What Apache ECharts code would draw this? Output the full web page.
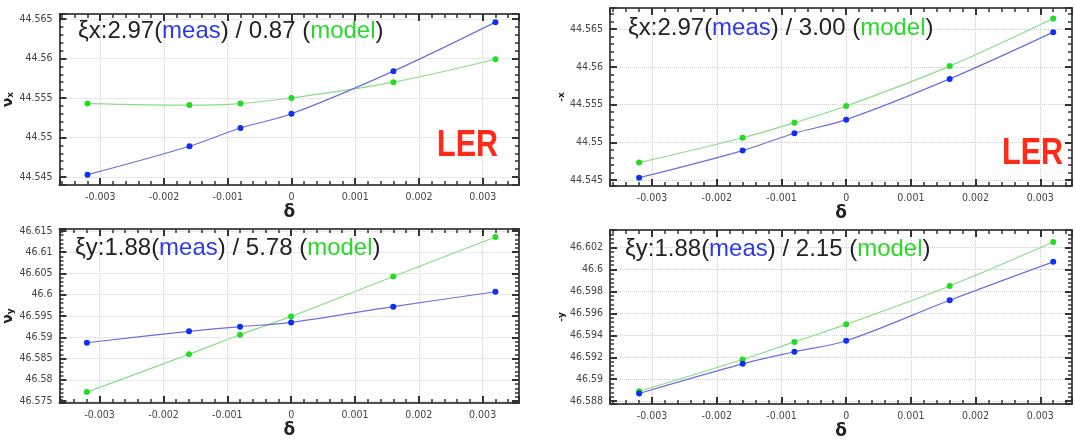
<!DOCTYPE html>
<html lang="en">
<head>
    <meta charset="UTF-8">
    <title>chromaticity LER</title>
    <script src="https://cdn.jsdelivr.net/npm/echarts@6/dist/echarts.min.js"></script>
    <style>
        html, body {margin: 0; padding: 0; background: #fff;}
    </style>
</head>
<body>
    <div id="chart" style="width: 1075px; height: 441px"></div>
    <script type="text/javascript">
        // momentum offsets (delta) used for every panel
        const delta = [-0.0032, -0.0016, -0.0008, 0, 0.0016, 0.0032];

        // horizontal tune
        const nuXMeas = [44.5453, 44.5489, 44.5512, 44.5530, 44.5584, 44.5646];
        const nuXModelOld = [44.5543, 44.5541, 44.5543, 44.5550, 44.5570, 44.5599];
        const nuXModelNew = [44.5473, 44.5506, 44.5526, 44.5548, 44.5601, 44.5664];

        // vertical tune
        const nuYMeas = [46.5887, 46.5914, 46.5925, 46.5935, 46.5972, 46.6007];
        const nuYModelOld = [46.5771, 46.5860, 46.5906, 46.5949, 46.6043, 46.6136];
        const nuYModelNew = [46.5889, 46.5918, 46.5934, 46.5950, 46.5985, 46.6025];

        // chromaticity annotations: [plane, meas, model]
        const xiTexts = [
            ['ξx', '2.97', '0.87'],
            ['ξx', '2.97', '3.00'],
            ['ξy', '1.88', '5.78'],
            ['ξy', '1.88', '2.15']
        ];

        const panels = [
            {grid: {left: 58, top: 14, width: 461, height: 171}, x: [-0.00364, 0.00357], y: [44.54399, 44.56563], ySplit: 4,
             meas: nuXMeas, model: nuXModelOld, sub: 'x', nu: true, text: xiTexts[0], tx: 78, ty: 19, ler: [437, 128]},
            {grid: {left: 610, top: 8, width: 462, height: 178}, x: [-0.00365, 0.00349], y: [44.5442, 44.5678], ySplit: 4,
             meas: nuXMeas, model: nuXModelNew, sub: 'x', nu: false, text: xiTexts[1], tx: 628, ty: 16, ler: [1002, 136]},
            {grid: {left: 59, top: 229, width: 460, height: 174}, x: [-0.00363, 0.00357], y: [46.57453, 46.61547], ySplit: 8,
             meas: nuYMeas, model: nuYModelOld, sub: 'y', nu: true, text: xiTexts[2], tx: 75, ty: 236},
            {grid: {left: 610, top: 230, width: 462, height: 178}, x: [-0.00365, 0.00349], y: [46.58773, 46.6036], ySplit: 8,
             meas: nuYMeas, model: nuYModelNew, sub: 'y', nu: false, text: xiTexts[3], tx: 625, ty: 237}
        ];

        const frame = {show: true, onZero: false, lineStyle: {color: '#505050', width: 2}};
        const tickLabel = {color: '#444', fontFamily: 'DejaVu Sans Condensed', fontSize: 10.5, margin: 7,
                           showMinLabel: false, showMaxLabel: false};
        const ticks = {show: true, inside: true, length: 7, lineStyle: {color: '#333', width: 2}};
        const minor = {show: true, splitNumber: 5, length: 4, lineStyle: {color: '#333', width: 1.5}};
        const grid = {show: true, lineStyle: {color: '#d0d0d0', type: 'dotted', width: 1}};

        let grids = [], xAxes = [], yAxes = [], series = [], graphic = [];

        panels.forEach((p, i) => {
            grids.push(p.grid);
            // bottom / top x axes
            xAxes.push({
                type: 'value', gridIndex: i, min: p.x[0], max: p.x[1], splitNumber: 7,
                axisLine: frame, axisTick: ticks, minorTick: minor, axisLabel: tickLabel, splitLine: grid,
                name: 'δ', nameLocation: 'middle', nameGap: 18,
                nameTextStyle: {color: '#222', fontSize: 17, fontFamily: 'DejaVu Sans', fontWeight: 'bold'}
            });
            xAxes.push({
                type: 'value', gridIndex: i, position: 'top', min: p.x[0], max: p.x[1], splitNumber: 7,
                axisLine: frame, axisTick: ticks, minorTick: minor, axisLabel: {show: false}, splitLine: {show: false}
            });
            // left / right y axes
            yAxes.push({
                type: 'value', gridIndex: i, min: p.y[0], max: p.y[1], splitNumber: p.ySplit,
                axisLine: frame, axisTick: ticks, minorTick: minor, axisLabel: tickLabel, splitLine: grid,
                name: p.nu ? '{n|ν}{s|' + p.sub + '}' : '{s|-' + p.sub + '}',
                nameLocation: 'middle', nameGap: p.nu ? 36 : 37, nameRotate: 90,
                nameTextStyle: {
                    rich: {
                        n: {fontSize: 14, fontWeight: 'bold', color: '#222', fontFamily: 'DejaVu Sans'},
                        s: {fontSize: 9, fontWeight: 'bold', color: '#222', fontFamily: 'DejaVu Sans', padding: [6, 0, 0, 0]}
                    }
                }
            });
            yAxes.push({
                type: 'value', gridIndex: i, position: 'right', min: p.y[0], max: p.y[1], splitNumber: p.ySplit,
                axisLine: frame, axisTick: ticks, minorTick: minor, axisLabel: {show: false}, splitLine: {show: false}
            });

            series.push({
                name: 'model', type: 'line', xAxisIndex: 2 * i, yAxisIndex: 2 * i,
                data: delta.map((d, k) => [d, p.model[k]]),
                smooth: 0.35, symbol: 'circle', symbolSize: 6, z: 3,
                lineStyle: {color: '#88dd88', width: 1.2}, itemStyle: {color: '#22dd22'}
            });
            series.push({
                name: 'meas', type: 'line', xAxisIndex: 2 * i, yAxisIndex: 2 * i,
                data: delta.map((d, k) => [d, p.meas[k]]),
                smooth: 0.35, symbol: 'circle', symbolSize: 6, z: 4,
                lineStyle: {color: '#6e6edc', width: 1.2}, itemStyle: {color: '#1030f0'}
            });

            const t = p.text;
            graphic.push({
                type: 'text', x: p.tx, y: p.ty, z: 10,
                style: {
                    text: '{k|' + t[0] + ':' + t[1] + '(}{b|meas}{k|) / ' + t[2] + ' (}{g|model}{k|)}',
                    rich: {
                        k: {fill: '#222', fontSize: 24, fontFamily: 'Liberation Sans'},
                        b: {fill: '#2d3ae6', fontSize: 24, fontFamily: 'Liberation Sans'},
                        g: {fill: '#2ad82a', fontSize: 24, fontFamily: 'Liberation Sans'}
                    }
                }
            });
            if (p.ler) {
                graphic.push({
                    type: 'text', x: p.ler[0], y: p.ler[1], scaleX: 0.85, z: 10,
                    style: {text: 'LER', fill: '#ff2a17', font: 'bold 36px "Liberation Sans"'}
                });
            }
        });

        let myChart = echarts.init(document.getElementById('chart'));
        myChart.setOption({
            animation: false,
            grid: grids,
            xAxis: xAxes,
            yAxis: yAxes,
            series: series,
            graphic: graphic
        });
    </script>
</body>
</html>
